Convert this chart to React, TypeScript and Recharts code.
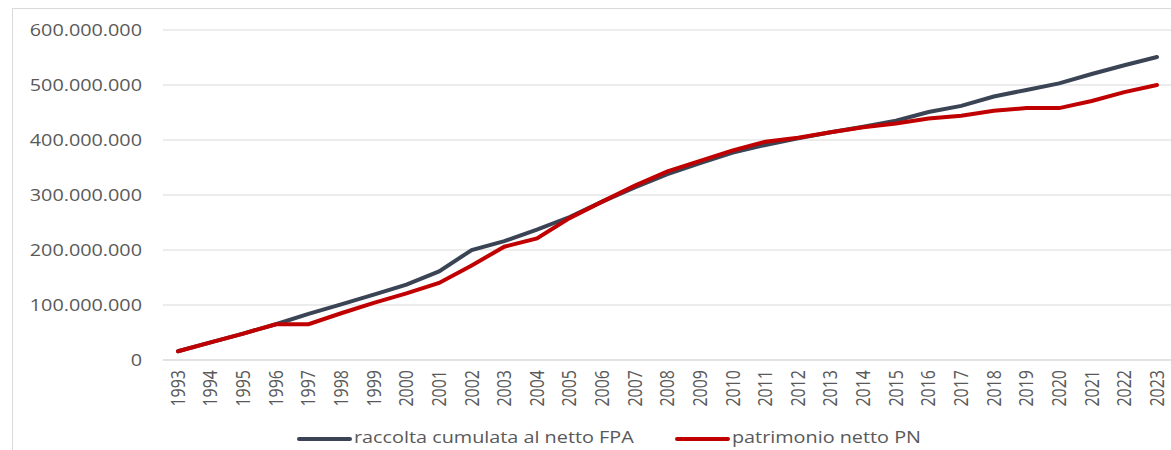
import { CartesianGrid, Line, LineChart, XAxis, YAxis } from "recharts";

const years = [
  "1993", "1994", "1995", "1996", "1997", "1998", "1999", "2000", "2001", "2002",
  "2003", "2004", "2005", "2006", "2007", "2008", "2009", "2010", "2011", "2012",
  "2013", "2014", "2015", "2016", "2017", "2018", "2019", "2020", "2021", "2022",
  "2023",
];

// raccolta cumulata al netto FPA
const fpa = [
  16000000, 32000000, 48000000, 65000000, 84000000, 101000000, 119000000, 137000000,
  161000000, 200000000, 216000000, 237000000, 260000000, 288000000, 314000000,
  338000000, 358000000, 377000000, 391000000, 403000000, 414000000, 424000000,
  435000000, 451000000, 462000000, 479000000, 491000000, 503000000, 520000000,
  536000000, 551000000,
];

// patrimonio netto PN
const pn = [
  16000000, 32000000, 48000000, 65000000, 65000000, 85000000, 104000000, 121000000,
  140000000, 172000000, 206000000, 221000000, 258000000, 288000000, 317000000,
  343000000, 362000000, 381000000, 397000000, 404000000, 414000000, 423000000,
  430000000, 439000000, 444000000, 453000000, 458000000, 458000000, 471000000,
  487000000, 500000000,
];

const yTicks = [0, 100000000, 200000000, 300000000, 400000000, 500000000, 600000000];

const data = years.map((year, i) => ({ year, fpa: fpa[i], pn: pn[i] }));

const TEXT = "#595959";
const GRID = "#d9d9d9";
const GRAY = "#3a4454";
const RED = "#c00000";
const FONT = "'Open Sans', sans-serif";

const fmt = (v: number) => String(v).replace(/\B(?=(\d{3})+(?!\d))/g, ".");

// the source picture is stretched ~1.2x horizontally, so the texts are too
function YearTick({ x, y, payload }: any) {
  return (
    <text
      transform={`translate(${x}, ${y}) rotate(-90) scale(1, 1.2)`}
      textAnchor="end"
      dy="0.355em"
      fill={TEXT}
      fontSize={16}
      fontFamily={FONT}
    >
      {payload.value}
    </text>
  );
}

function ValueTick({ x, y, payload }: any) {
  return (
    <text
      transform={`translate(${x}, ${y}) scale(1.2, 1)`}
      textAnchor="end"
      dy="0.355em"
      fill={TEXT}
      fontSize={16.5}
      fontFamily={FONT}
    >
      {fmt(payload.value)}
    </text>
  );
}

const legendText = {
  position: "absolute" as const,
  top: 427,
  fontFamily: FONT,
  fontSize: 16.5,
  lineHeight: "20px",
  color: TEXT,
  whiteSpace: "nowrap" as const,
  transform: "scaleX(1.2)",
  transformOrigin: "left",
};

export default function App() {
  return (
    <div
      style={{
        position: "absolute",
        left: 0,
        top: 0,
        width: 1171,
        height: 450,
        overflow: "hidden",
        background: "#fff",
      }}
    >
      <div
        style={{
          position: "absolute",
          left: 12,
          top: 8,
          width: 1200,
          height: 500,
          border: `1px solid ${GRID}`,
        }}
      />
      <div style={{ position: "absolute", left: 0, top: 0 }}>
        <LineChart
          width={1180}
          height={450}
          data={data}
          margin={{ top: 30, right: 7, bottom: 0, left: 0 }}
        >
          <CartesianGrid vertical={false} stroke={GRID} strokeWidth={1} />
          <XAxis
            dataKey="year"
            height={90}
            interval={0}
            padding={{ left: 15, right: 16 }}
            tickLine={false}
            axisLine={{ stroke: GRID }}
            tickMargin={4}
            tick={<YearTick />}
          />
          <YAxis
            width={163}
            domain={[0, 600000000]}
            ticks={yTicks}
            axisLine={false}
            tickLine={false}
            tickMargin={15}
            tick={<ValueTick />}
          />
          <Line
            dataKey="fpa"
            stroke={GRAY}
            strokeWidth={4}
            strokeLinecap="round"
            dot={false}
            isAnimationActive={false}
          />
          <Line
            dataKey="pn"
            stroke={RED}
            strokeWidth={4}
            strokeLinecap="round"
            dot={false}
            isAnimationActive={false}
          />
        </LineChart>
      </div>
      <div style={{ position: "absolute", left: 297, top: 437, width: 55, height: 4, background: GRAY, borderRadius: 2 }} />
      <div style={{ ...legendText, left: 354 }}>raccolta cumulata al netto FPA</div>
      <div style={{ position: "absolute", left: 675, top: 437, width: 55, height: 4, background: RED, borderRadius: 2 }} />
      <div style={{ ...legendText, left: 732 }}>patrimonio netto PN</div>
    </div>
  );
}
